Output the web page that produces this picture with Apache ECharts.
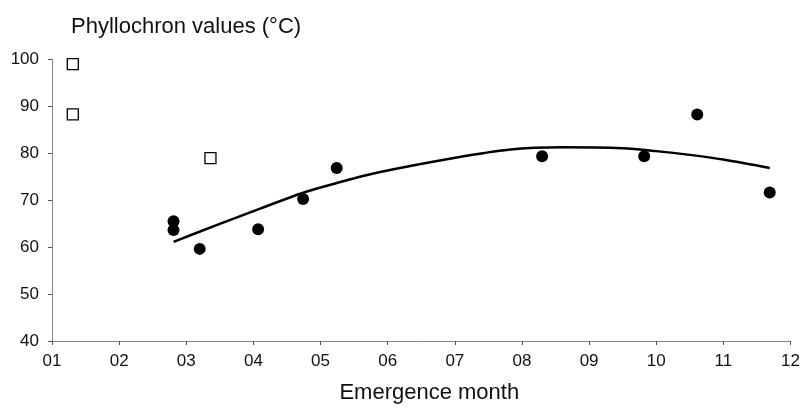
<!DOCTYPE html>
<html>
<head>
<meta charset="utf-8">
<script src="https://cdn.jsdelivr.net/npm/echarts@6/dist/echarts.min.js"></script>
<style>html,body{margin:0;padding:0;background:#fff}#c{width:803px;height:409px}</style>
</head>
<body>
<div id="c"></div>
<script>
const monthLabels = ['01','02','03','04','05','06','07','08','09','10','11','12'];
const yTicks = [40, 50, 60, 70, 80, 90, 100];
// open squares (excluded points)
const excludedPoints = [[1.31, 98.9], [1.31, 88.2], [3.36, 78.9]];
// filled circles (fitted points)
const fittedPoints = [
  [2.81, 65.5], [2.81, 63.6], [3.20, 59.6], [4.07, 63.8], [4.74, 70.2],
  [5.24, 76.8], [8.30, 79.3], [9.82, 79.3], [10.61, 88.2], [11.69, 71.6]
];
// fitted trend curve
const trendCurve = [
  [2.81, 61.1], [3.44, 64.6], [4.09, 68.1], [4.73, 71.5], [5.24, 73.6], [5.87, 75.9],
  [7.05, 79.1], [7.8, 80.7], [8.6, 81.2], [9.5, 81.0], [10.0, 80.4], [10.5, 79.6],
  [11.0, 78.6], [11.69, 76.8]
];

const chart = echarts.init(document.getElementById('c'), null, {renderer: 'canvas'});
const font = 'Liberation Sans, Arial, sans-serif';
chart.setOption({
  animation: false,
  backgroundColor: '#fff',
  grid: {left: 52, right: 10, top: 59, bottom: 65, containLabel: false},
  title: {
    text: 'Phyllochron values (°C)', left: 66, top: 11,
    textStyle: {fontFamily: font, fontSize: 22, fontWeight: 'normal', color: '#111'}
  },
  xAxis: {
    type: 'value', min: 1, max: 12, interval: 1,
    name: 'Emergence month', nameLocation: 'middle', nameGap: 41,
    nameTextStyle: {fontFamily: font, fontSize: 22, color: '#111', padding: [0, 0, 0, 16]},
    axisLine: {show: true, lineStyle: {color: '#888', width: 1}},
    axisTick: {show: true, length: 4, lineStyle: {color: '#555'}},
    axisLabel: {fontFamily: font, fontSize: 17, color: '#111', margin: 12,
      formatter: v => monthLabels[Math.round(v) - 1] || ''},
    splitLine: {show: false}
  },
  yAxis: {
    type: 'value', min: yTicks[0], max: yTicks[yTicks.length - 1], interval: 10,
    axisLine: {show: true, lineStyle: {color: '#888', width: 1}},
    axisTick: {show: true, length: 4, lineStyle: {color: '#555'}},
    axisLabel: {fontFamily: font, fontSize: 17, color: '#111', margin: 13},
    splitLine: {show: false}
  },
  series: [
    {
      type: 'line', data: trendCurve, smooth: 0.3, showSymbol: false, symbol: 'none',
      lineStyle: {color: '#000', width: 2.5}, z: 2
    },
    {
      type: 'scatter', data: fittedPoints, symbol: 'circle', symbolSize: 12,
      itemStyle: {color: '#000', opacity: 1}, z: 3
    },
    {
      type: 'scatter', data: excludedPoints, symbol: 'rect', symbolSize: 11,
      itemStyle: {color: '#fff', borderColor: '#000', borderWidth: 1.3, opacity: 1}, z: 3
    }
  ]
});
</script>
</body>
</html>
